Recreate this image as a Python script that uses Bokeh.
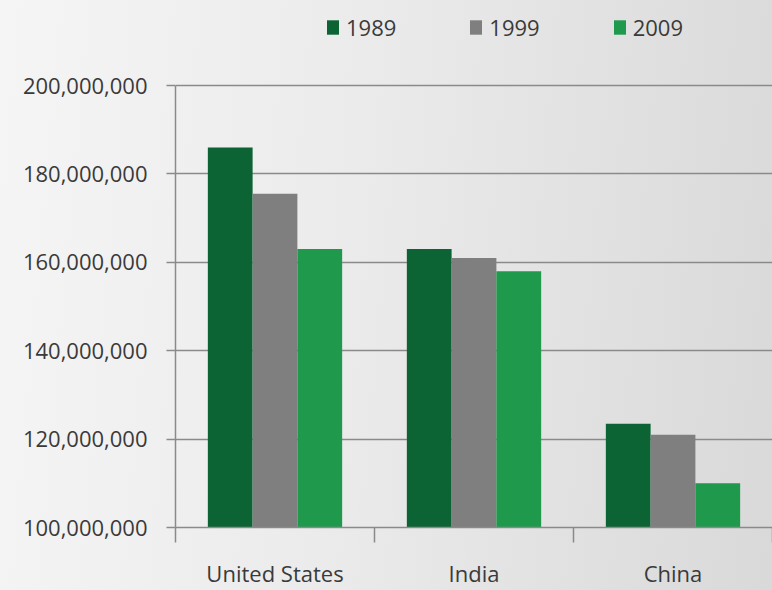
from bokeh.plotting import figure
from bokeh.models import (FactorRange, Range1d, LinearAxis, FixedTicker,
                          NumeralTickFormatter)
from bokeh.transform import dodge
from bokeh.embed import file_html
from bokeh.resources import INLINE

# Population by country for three census years
countries = ["United States", "India", "China"]
years = ["1989", "1999", "2009"]
pop_1989 = [186_000_000, 163_000_000, 123_500_000]
pop_1999 = [175_500_000, 161_000_000, 121_000_000]
pop_2009 = [163_000_000, 158_000_000, 110_000_000]
y_ticks = [100_000_000, 120_000_000, 140_000_000, 160_000_000,
           180_000_000, 200_000_000]

colors = ["#0c6333", "#7f7f7f", "#1f9a4c"]
FONT = "Open Sans"
SIZE = "22px"
TEXT = "#3a3a3a"
AXIS = "#8a8a8a"

data = {"country": countries, "1989": pop_1989, "1999": pop_1999, "2009": pop_2009}

# The frame runs to the top of the page so the legend row can sit inside it;
# the y range gets headroom above the last tick for that row (85px of 527px).
W, H = 772, 590
BOTTOM = 63
HEADROOM_PX = 85
frame_h = H - BOTTOM
span = y_ticks[-1] - y_ticks[0]
y_top = y_ticks[-1] + span * HEADROOM_PX / (frame_h - HEADROOM_PX)

p = figure(
    x_range=FactorRange(*countries, range_padding=0, factor_padding=0),
    y_range=Range1d(y_ticks[0], y_top),
    width=W, height=H,
    output_backend="svg", toolbar_location=None,
    x_axis_location=None,
    min_border_left=175, min_border_top=0, min_border_bottom=BOTTOM, min_border_right=0,
    background_fill_alpha=0, border_fill_alpha=0,
    styles={"background": "linear-gradient(95deg, #f5f5f5 0%, #ebebeb 45%, #d9d9d9 100%)"},
)
p.outline_line_color = None

bar_w = 0.225
offsets = [-bar_w, 0.0, bar_w]
for year, off, col in zip(years, offsets, colors):
    p.vbar(x=dodge("country", off, range=p.x_range), top=year, bottom=y_ticks[0],
           width=bar_w, source=data, fill_color=col, line_color=None,
           legend_label=year)

# Category axis on the factor range's synthetic coordinates:
# labels under each group centre, tick marks on the group boundaries
n = len(countries)
xaxis = LinearAxis(
    ticker=FixedTicker(ticks=[i + 0.5 for i in range(n)],
                       minor_ticks=list(range(n + 1))),
    major_label_overrides={i + 0.5: c for i, c in enumerate(countries)},
)
xaxis.major_tick_out = 0
xaxis.major_tick_in = 0
xaxis.minor_tick_out = 15
xaxis.minor_tick_in = 0
xaxis.minor_tick_line_color = AXIS
xaxis.minor_tick_line_width = 1.5
xaxis.axis_line_color = AXIS
xaxis.axis_line_width = 1.5
xaxis.major_label_standoff = 15
xaxis.major_label_text_font = FONT
xaxis.major_label_text_font_size = SIZE
xaxis.major_label_text_color = TEXT
p.add_layout(xaxis, "below")

yaxis = p.yaxis[0]
yaxis.ticker = FixedTicker(ticks=y_ticks)
yaxis.bounds = (y_ticks[0], y_ticks[-1])
yaxis.formatter = NumeralTickFormatter(format="0,0")
yaxis.major_tick_out = 9
yaxis.major_tick_in = 0
yaxis.minor_tick_line_color = None
yaxis.major_tick_line_color = AXIS
yaxis.major_tick_line_width = 1.5
yaxis.axis_line_color = AXIS
yaxis.axis_line_width = 1.5
yaxis.major_label_standoff = 19
yaxis.major_label_text_font = FONT
yaxis.major_label_text_font_size = SIZE
yaxis.major_label_text_color = TEXT

p.xgrid.visible = False
p.ygrid.ticker = FixedTicker(ticks=y_ticks)
p.ygrid.grid_line_color = AXIS
p.ygrid.grid_line_width = 1.5

# Legend row across the top
leg = p.legend[0]
leg.orientation = "horizontal"
leg.location = (150, frame_h - 42)
leg.padding = 0
leg.margin = 0
leg.spacing = 72
leg.glyph_width = 15
leg.glyph_height = 18
leg.label_standoff = 6
leg.label_text_font = FONT
leg.label_text_font_size = SIZE
leg.label_text_color = TEXT
leg.border_line_color = None
leg.background_fill_alpha = 0

open("out.html", "w").write(file_html(p, INLINE))
